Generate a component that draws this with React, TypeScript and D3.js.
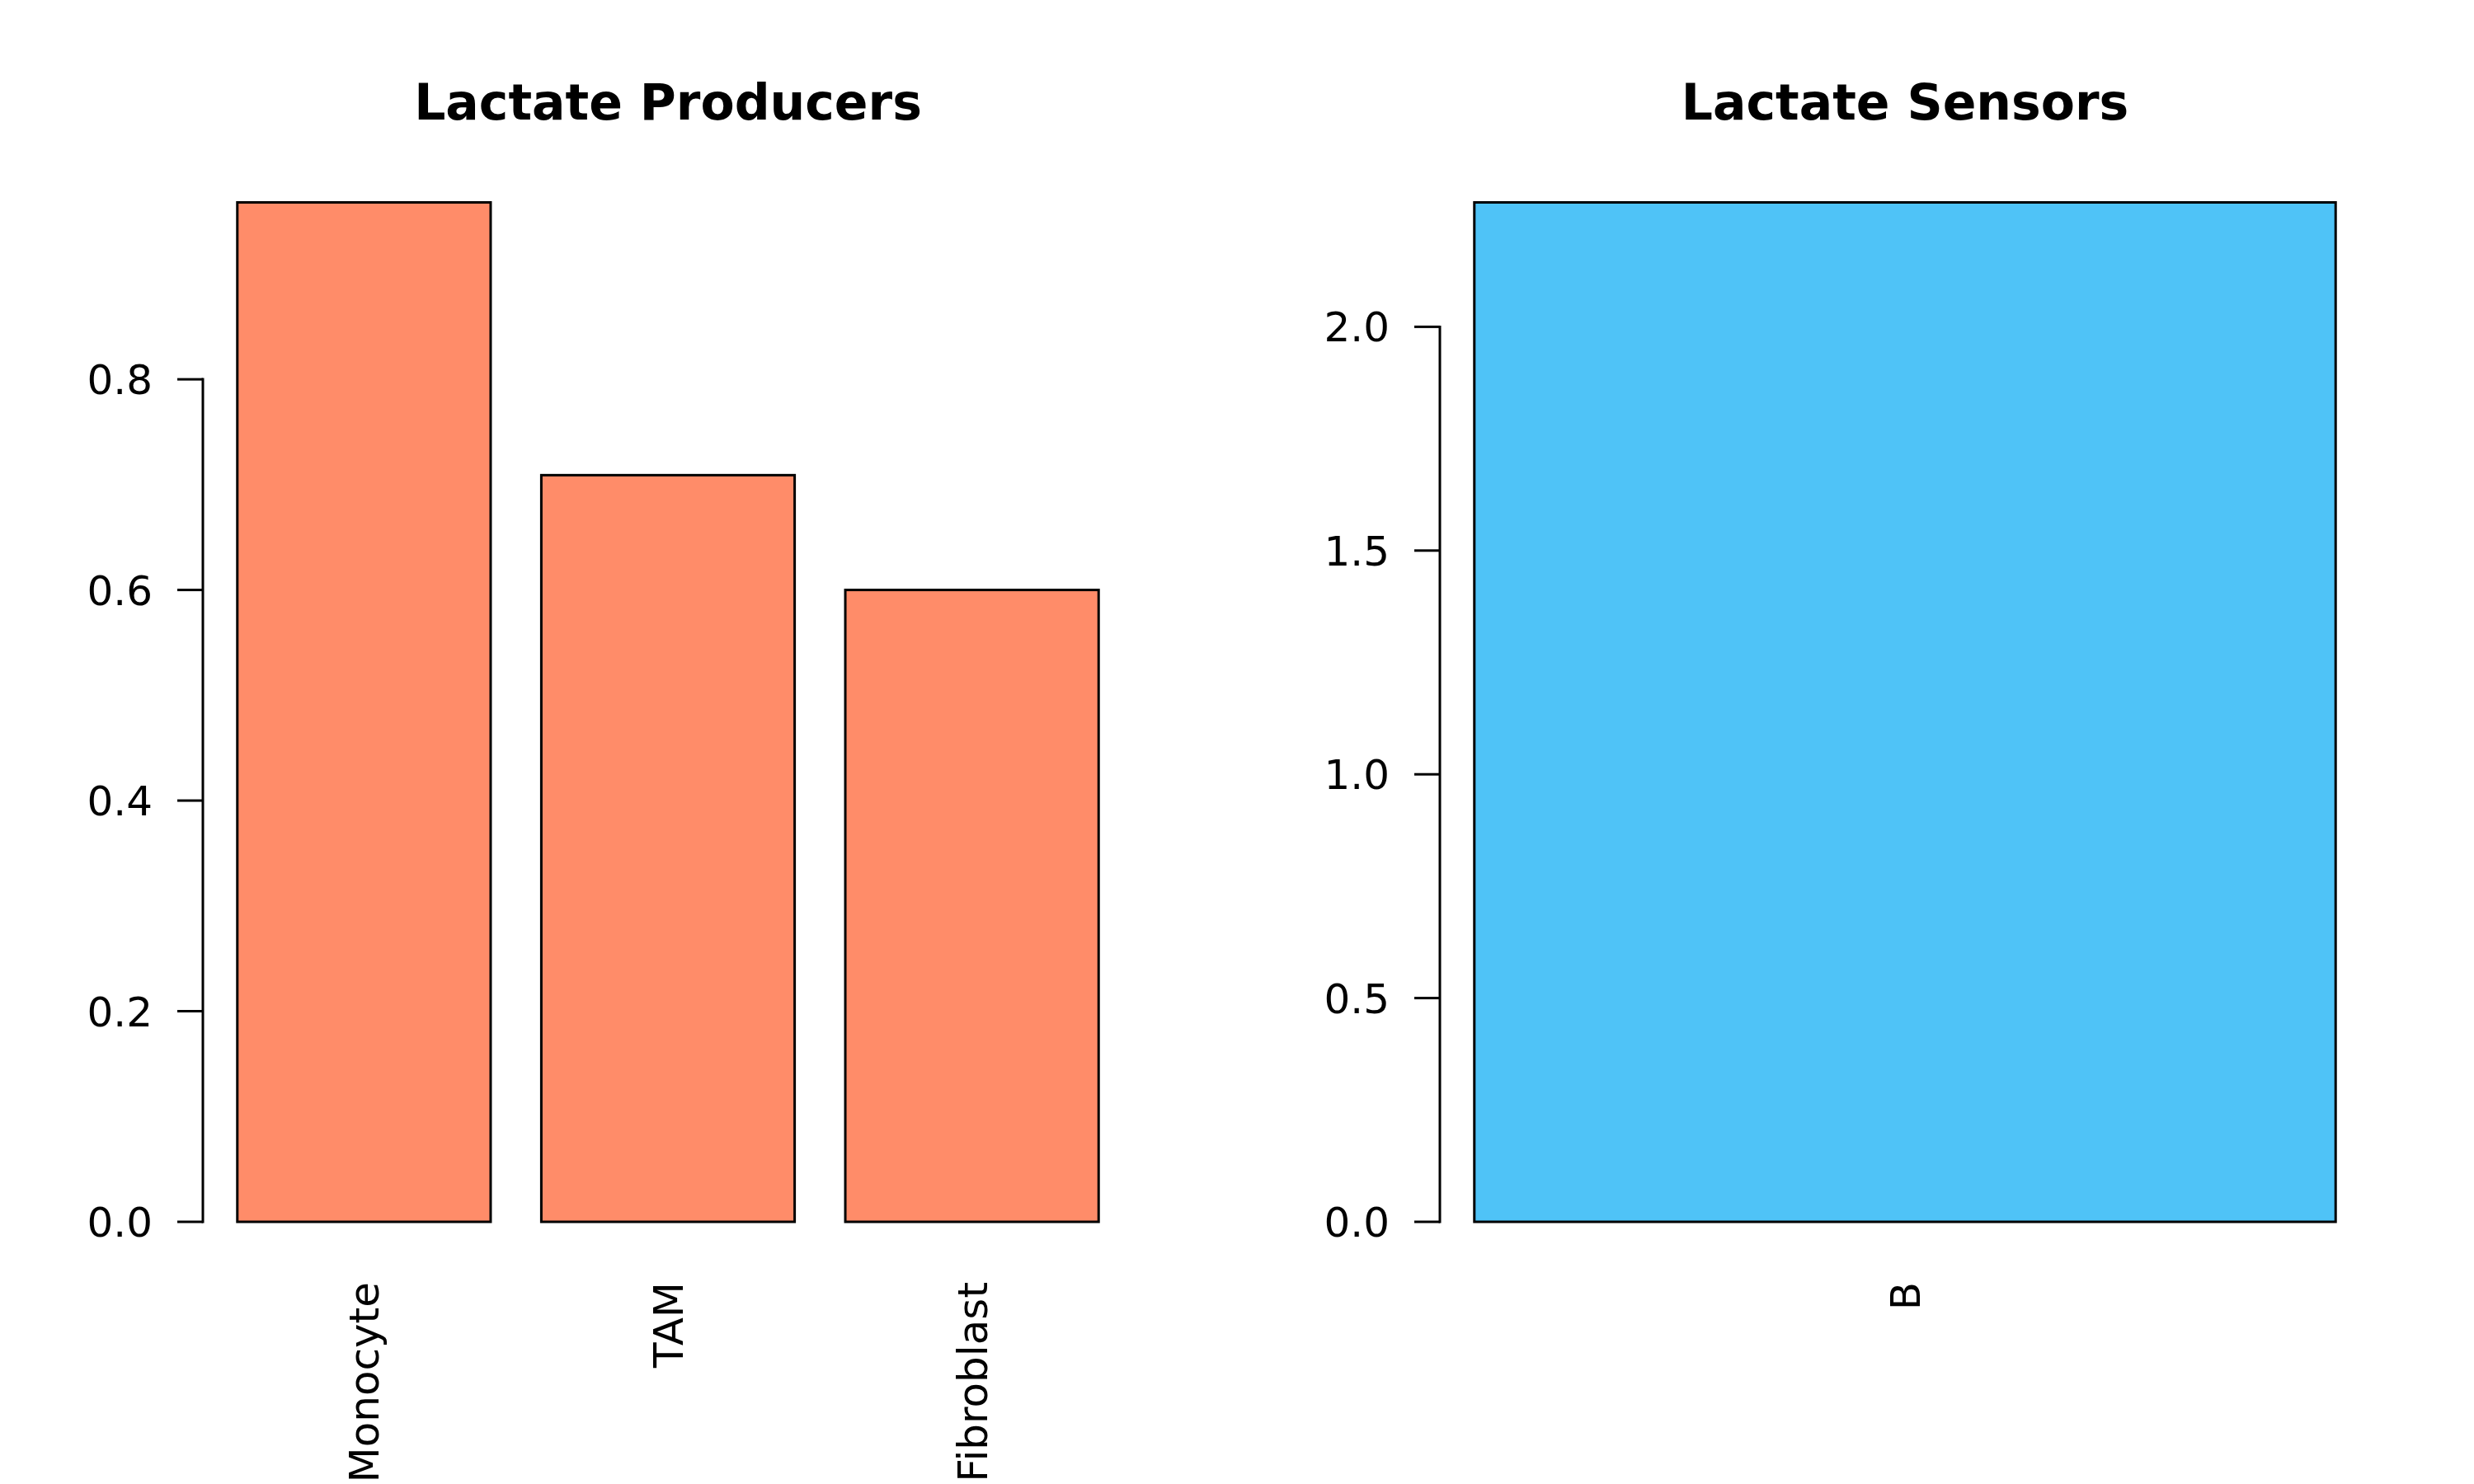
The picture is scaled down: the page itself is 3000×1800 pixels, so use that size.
import * as d3 from "d3";
import React from "react";

// values
const producerCells = ["Monocyte", "TAM", "Fibroblast"];
const producerScores = [0.968, 0.709, 0.6];
const sensorCells = ["B"];
const sensorScores = [2.278];

const W = 3000;
const H = 1800;
const FONT = "'DejaVu Sans', Verdana, sans-serif";

interface PanelProps {
  title: string;
  labels: string[];
  values: number[];
  fill: string;
  offsetX: number;
}

// one barplot, laid out the way R's barplot() does (width 1, space 0.2)
const BarPanel: React.FC<PanelProps> = ({ title, labels, values, fill, offsetX }) => {
  const plotLeft = offsetX + 246;
  const plotRight = offsetX + 1374;
  const zeroY = 1482;
  const topY = 245.5;

  const n = values.length;
  const lo = 0.2;
  const hi = 1.2 * n;
  const pad = (hi - lo) * 0.04;
  const x = d3.scaleLinear().domain([lo - pad, hi + pad]).range([plotLeft, plotRight]);
  const y = d3.scaleLinear().domain([0, d3.max(values) as number]).range([zeroY, topY]);

  const ticks = y.ticks(5);
  const fmt = d3.format(".1f");
  const cx = (plotLeft + plotRight) / 2;

  return (
    <g>
      <text
        x={cx}
        y={145}
        textAnchor="middle"
        fontFamily={FONT}
        fontWeight="bold"
        fontSize={60}
      >
        {title}
      </text>

      {values.map((v, i) => {
        const l = 0.2 + i * 1.2;
        return (
          <rect
            key={labels[i]}
            x={x(l)}
            y={y(v)}
            width={x(l + 1) - x(l)}
            height={y(0) - y(v)}
            fill={fill}
            stroke="#000"
            strokeWidth={3}
          />
        );
      })}

      {/* y axis */}
      <line
        x1={plotLeft}
        x2={plotLeft}
        y1={y(ticks[0])}
        y2={y(ticks[ticks.length - 1])}
        stroke="#000"
        strokeWidth={3}
        strokeLinecap="square"
      />
      {ticks.map((t) => (
        <g key={t}>
          <line x1={plotLeft - 31} x2={plotLeft} y1={y(t)} y2={y(t)} stroke="#000" strokeWidth={3} />
          <text
            x={plotLeft - 61}
            y={y(t)}
            dy="0.36em"
            textAnchor="end"
            fontFamily={FONT}
            fontSize={50}
          >
            {fmt(t)}
          </text>
        </g>
      ))}

      {/* category labels, las = 2 */}
      {labels.map((lab, i) => {
        const mx = x(0.7 + i * 1.2);
        return (
          <text
            key={lab}
            transform={`translate(${mx},1555) rotate(-90)`}
            dy="0.36em"
            textAnchor="end"
            fontFamily={FONT}
            fontSize={50}
          >
            {lab}
          </text>
        );
      })}
    </g>
  );
};

const App: React.FC = () => {
  return (
    <svg
      width={W}
      height={H}
      viewBox={`0 0 ${W} ${H}`}
      style={{ position: "absolute", left: 0, top: 0, background: "#fff" }}
    >
      <rect width={W} height={H} fill="#fff" />
      <BarPanel
        title="Lactate Producers"
        labels={producerCells}
        values={producerScores}
        fill="#FF8C69"
        offsetX={0}
      />
      <BarPanel
        title="Lactate Sensors"
        labels={sensorCells}
        values={sensorScores}
        fill="#4FC3F7"
        offsetX={1500}
      />
    </svg>
  );
};

export default App;
